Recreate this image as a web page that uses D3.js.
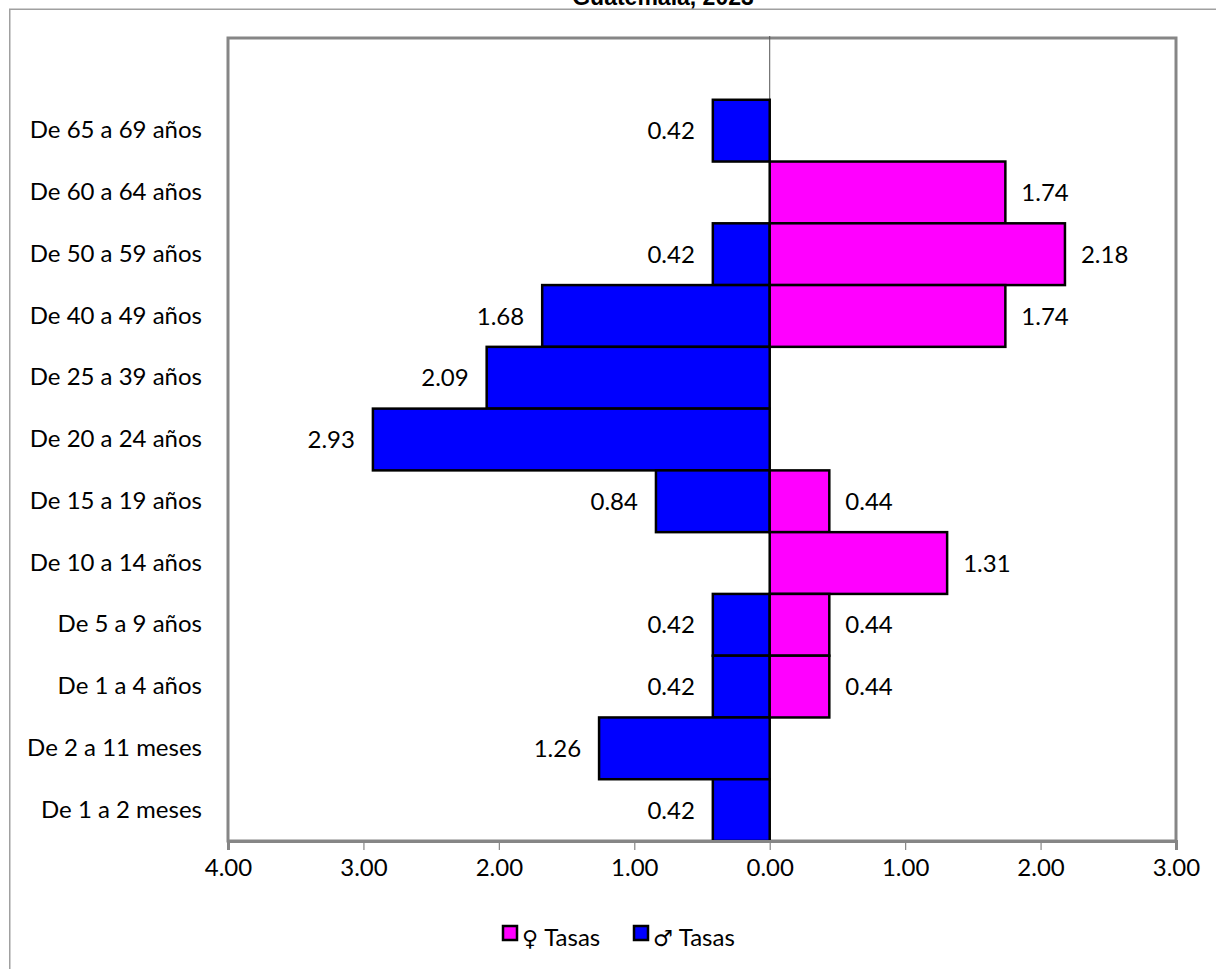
<!DOCTYPE html>
<html>
<head>
<meta charset="utf-8">
<script src="https://cdn.jsdelivr.net/npm/d3@7"></script>
<style>
html,body{margin:0;padding:0;background:#fff;overflow:hidden;}
svg{display:block;}
</style>
</head>
<body>
<svg id="chart" width="1216" height="969"></svg>
<script>
// ---- data ----
const categories = ["", "De 65 a 69 años", "De 60 a 64 años", "De 50 a 59 años", "De 40 a 49 años",
  "De 25 a 39 años", "De 20 a 24 años", "De 15 a 19 años", "De 10 a 14 años",
  "De 5 a 9 años", "De 1 a 4 años", "De 2 a 11 meses", "De 1 a 2 meses"];
const femaleRates = [null, null, 1.74, 2.18, 1.74, null, null, 0.44, 1.31, 0.44, 0.44, null, null];
const maleRates   = [null, 0.42, null, 0.42, 1.68, 2.09, 2.93, 0.84, null, 0.42, 0.42, 1.26, 0.42];
const xTicks = [-4, -3, -2, -1, 0, 1, 2, 3];
const titleText = "Guatemala, 2023";
const legendSymbols = ["\u2640", "\u2642"];
const legendLabels = ["Tasas", "Tasas"];

// ---- layout ----
const svg = d3.select("#chart");
const FONT = "Lato, 'Noto Sans', sans-serif";
const FS = 24;
const plot = {left: 228, right: 1176, top: 38, bottom: 841};

const x = d3.scaleLinear().domain([-4, 3]).range([plot.left, plot.right]);
const y = d3.scaleBand().domain(categories).range([plot.top, plot.bottom]).padding(0);

// outer chart frame
svg.append("rect").attr("x", 9.75).attr("y", 9.25).attr("width", 1300).attr("height", 1000)
  .attr("fill", "none").attr("stroke", "#a0a0a0").attr("stroke-width", 1.5);

// title (cropped at the top edge, as in the reference)
svg.append("text").attr("x", 663).attr("y", 5).attr("text-anchor", "middle")
  .attr("font-family", "'Liberation Sans', Arial, sans-serif").attr("font-weight", "bold")
  .attr("font-size", 23).attr("fill", "#000").text(titleText);

// plot area border
svg.append("rect").attr("x", plot.left).attr("y", plot.top)
  .attr("width", plot.right - plot.left).attr("height", plot.bottom - plot.top)
  .attr("fill", "#fff").attr("stroke", "#868686").attr("stroke-width", 3);

// zero (category) axis line
svg.append("line").attr("x1", x(0)).attr("x2", x(0)).attr("y1", plot.top - 2).attr("y2", plot.bottom)
  .attr("stroke", "#555").attr("stroke-width", 1);

// rows
const rows = categories.map((c, i) => ({cat: c, f: femaleRates[i], m: maleRates[i]}));

// male bars
svg.append("g").selectAll("rect").data(rows.filter(d => d.m != null)).join("rect")
  .attr("x", d => x(-d.m)).attr("y", d => y(d.cat))
  .attr("width", d => x(0) - x(-d.m)).attr("height", y.bandwidth())
  .attr("fill", "#0000FF").attr("stroke", "#000").attr("stroke-width", 2.5);

// female bars
svg.append("g").selectAll("rect").data(rows.filter(d => d.f != null)).join("rect")
  .attr("x", x(0)).attr("y", d => y(d.cat))
  .attr("width", d => x(d.f) - x(0)).attr("height", y.bandwidth())
  .attr("fill", "#FF00FF").attr("stroke", "#000").attr("stroke-width", 2.5);

// labels
svg.append("g").selectAll("text").data(rows.filter(d => d.m != null)).join("text")
  .attr("x", d => x(-d.m) - 18).attr("y", d => y(d.cat) + y.bandwidth() / 2).attr("dy", "0.36em")
  .attr("text-anchor", "end").attr("font-family", FONT).attr("font-size", FS).attr("fill", "#000")
  .text(d => d.m.toFixed(2));
svg.append("g").selectAll("text").data(rows.filter(d => d.f != null)).join("text")
  .attr("x", d => x(d.f) + 16).attr("y", d => y(d.cat) + y.bandwidth() / 2).attr("dy", "0.36em")
  .attr("text-anchor", "start").attr("font-family", FONT).attr("font-size", FS).attr("fill", "#000")
  .text(d => d.f.toFixed(2));

// x axis
const xAxis = svg.append("g").attr("transform", `translate(0,${plot.bottom})`)
  .call(d3.axisBottom(x).tickValues(xTicks).tickFormat(d => Math.abs(d).toFixed(2)).tickSize(9).tickPadding(9));
xAxis.select(".domain").attr("stroke", "#868686").attr("stroke-width", 3);
xAxis.selectAll(".tick line").attr("stroke", "#868686").attr("stroke-width", 1.2);
xAxis.selectAll("text").attr("font-family", FONT).attr("font-size", FS).attr("fill", "#000");

// y axis
const yAxis = svg.append("g").attr("transform", `translate(${plot.left},0)`)
  .call(d3.axisLeft(y).tickSize(0).tickPadding(26));
yAxis.select(".domain").remove();
yAxis.selectAll("text").attr("font-family", FONT).attr("font-size", FS).attr("fill", "#000");

// legend
const legend = svg.append("g");
const legItems = [
  {sym: legendSymbols[0], label: legendLabels[0], color: "#FF00FF", x: 502},
  {sym: legendSymbols[1], label: legendLabels[1], color: "#0000FF", x: 633}
];
legItems.forEach(it => {
  legend.append("rect").attr("x", it.x + 1).attr("y", 926).attr("width", 14).attr("height", 14)
    .attr("fill", it.color).attr("stroke", "#000").attr("stroke-width", 2.5);
  const t = legend.append("text").attr("x", it.x + 20).attr("y", 937).attr("dy", "0.36em")
    .attr("font-family", FONT).attr("font-size", FS).attr("fill", "#000");
  t.append("tspan").attr("font-family", "'DejaVu Sans', sans-serif").attr("font-size", 22).text(it.sym);
  t.append("tspan").attr("dx", 6).text(it.label);
});
</script>
</body>
</html>
